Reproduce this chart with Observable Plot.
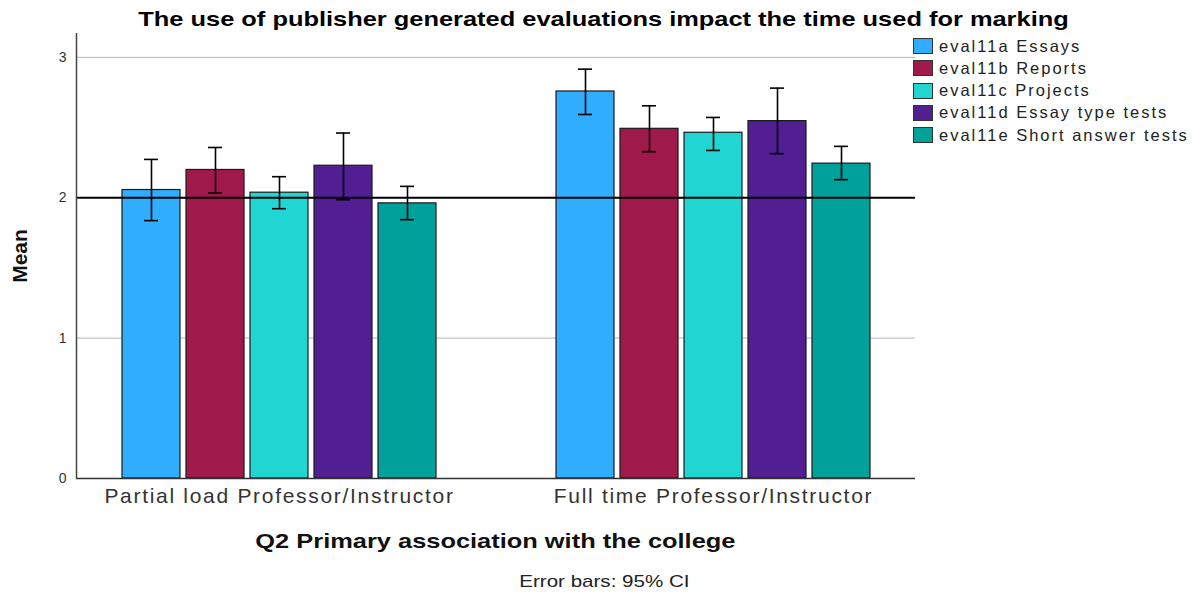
<!DOCTYPE html>
<html>
<head>
<meta charset="utf-8">
<script src="https://cdn.jsdelivr.net/npm/d3@7"></script>
<script src="https://cdn.jsdelivr.net/npm/@observablehq/plot@0.6"></script>
<style>
  body { margin: 0; background: #fff; }
  #wrap { position: relative; width: 1195px; height: 594px; font-family: "Liberation Sans", Arial, sans-serif; }
  #wrap svg { position: absolute; left: 0; top: 0; }
  #wrap svg g[aria-label="fx-axis tick label"] text { letter-spacing: 1.7px; }
  .t { position: absolute; white-space: nowrap; color: #000; text-align: center; }
  .t span { display: inline-block; transform: scaleX(1.21); transform-origin: 50% 50%; }
  #title { left: 0; width: 1208px; top: 7px; font-size: 21px; font-weight: bold; }
  #xlab { left: 76px; width: 839px; top: 529px; font-size: 21px; font-weight: bold; color: #111; }
  #cap { left: 0; width: 1208px; top: 572px; font-size: 17px; color: #222; }
  #ylab { left: 20px; top: 256px; font-size: 21px; font-weight: bold; transform: translate(-50%, -50%) rotate(-90deg); color: #111; }
  #legend { position: absolute; left: 913px; top: 35px; }
  .li { display: flex; align-items: center; height: 22.25px; }
  .sw { width: 18px; height: 14px; border: 1px solid #333; box-sizing: content-box; margin-right: 6px; }
  .lt { font-size: 16.5px; letter-spacing: 2px; color: #222; }
</style>
</head>
<body>
<div id="wrap">
  <div class="t" id="title"><span>The use of publisher generated evaluations impact the time used for marking</span></div>
  <div class="t" id="ylab">Mean</div>
  <div class="t" id="xlab"><span>Q2 Primary association with the college</span></div>
  <div class="t" id="cap"><span>Error bars: 95% CI</span></div>
  <div id="legend"></div>
</div>
<script>
const groups = ["Partial load Professor/Instructor", "Full time Professor/Instructor"];
const series = ["eval11a Essays", "eval11b Reports", "eval11c Projects", "eval11d Essay type tests", "eval11e Short answer tests"];
const colors = ["#31adfd", "#a0194b", "#21d6d2", "#521f93", "#00a09b"];

const meanPartial = [2.055, 2.198, 2.036, 2.228, 1.960];
const loPartial   = [1.837, 2.034, 1.922, 1.986, 1.844];
const hiPartial   = [2.273, 2.358, 2.150, 2.461, 2.081];

const meanFull = [2.757, 2.491, 2.463, 2.546, 2.243];
const loFull   = [2.593, 2.328, 2.337, 2.314, 2.129];
const hiFull   = [2.916, 2.655, 2.572, 2.781, 2.366];

const refValue = 2;
const yTicks = [0, 1, 2, 3];
const gridTicks = [1, 3];

const data = [];
[[meanPartial, loPartial, hiPartial], [meanFull, loFull, hiFull]].forEach(([m, lo, hi], gi) => {
  series.forEach((s, si) => data.push({group: groups[gi], series: s, mean: m[si], lo: lo[si], hi: hi[si]}));
});

const frame = {
  width: 1195,
  height: 594,
  marginLeft: 76,
  marginRight: 280,
  marginTop: 33,
  marginBottom: 116,
  style: {fontFamily: "'Liberation Sans', Arial, sans-serif", background: "transparent"},
  y: {domain: [0, 3.17], axis: null}
};

// bottom layer: gridlines
const gridLayer = Plot.plot({
  ...frame,
  marks: [Plot.gridY(gridTicks, {stroke: "#b4b4b4", strokeOpacity: 1, strokeWidth: 1})]
});

// grouped bars
const barLayer = Plot.plot({
  ...frame,
  fx: {domain: groups, paddingInner: 0.277, paddingOuter: 0.103, label: null},
  x: {domain: series, paddingInner: 0.094, paddingOuter: 0, axis: null},
  color: {domain: series, range: colors},
  marks: [
    Plot.barY(data, {fx: "group", x: "series", y: "mean", fill: "series", stroke: "#1a1a1a", strokeWidth: 1.2}),
    Plot.axisFx({anchor: "bottom", tickSize: 0, tickPadding: 10, fontSize: 21, color: "#333", label: null})
  ]
});

// reference line and axes
const topLayer = Plot.plot({
  ...frame,
  x: {domain: [0, 1], axis: null},
  marks: [
    Plot.ruleY([refValue], {stroke: "#000", strokeWidth: 2}),
    Plot.ruleY([0], {stroke: "#333", strokeWidth: 1.5}),
    Plot.ruleX([0], {stroke: "#444", strokeWidth: 1.5}),
    Plot.axisY(yTicks, {tickSize: 0, tickPadding: 10, fontSize: 14, color: "#333", tickFormat: "d", label: null})
  ]
});

// error bars (95% CI)
const errLayer = Plot.plot({
  ...frame,
  fx: {domain: groups, paddingInner: 0.277, paddingOuter: 0.103, label: null, axis: null},
  x: {domain: series, paddingInner: 0.094, paddingOuter: 0, axis: null},
  marks: [
    Plot.ruleX(data, {fx: "group", x: "series", y1: "lo", y2: "hi", stroke: "#000", strokeWidth: 1.6}),
    Plot.tickY(data, {fx: "group", x: "series", y: "lo", stroke: "#000", strokeWidth: 1.6, insetLeft: 22, insetRight: 22}),
    Plot.tickY(data, {fx: "group", x: "series", y: "hi", stroke: "#000", strokeWidth: 1.6, insetLeft: 22, insetRight: 22})
  ]
});

const wrap = document.getElementById("wrap");
wrap.prepend(errLayer);
wrap.prepend(topLayer);
wrap.prepend(barLayer);
wrap.prepend(gridLayer);

const leg = document.getElementById("legend");
series.forEach((s, i) => {
  const row = document.createElement("div");
  row.className = "li";
  const sw = document.createElement("div");
  sw.className = "sw";
  sw.style.background = colors[i];
  const lt = document.createElement("span");
  lt.className = "lt";
  lt.textContent = s;
  row.appendChild(sw);
  row.appendChild(lt);
  leg.appendChild(row);
});
</script>
</body>
</html>
